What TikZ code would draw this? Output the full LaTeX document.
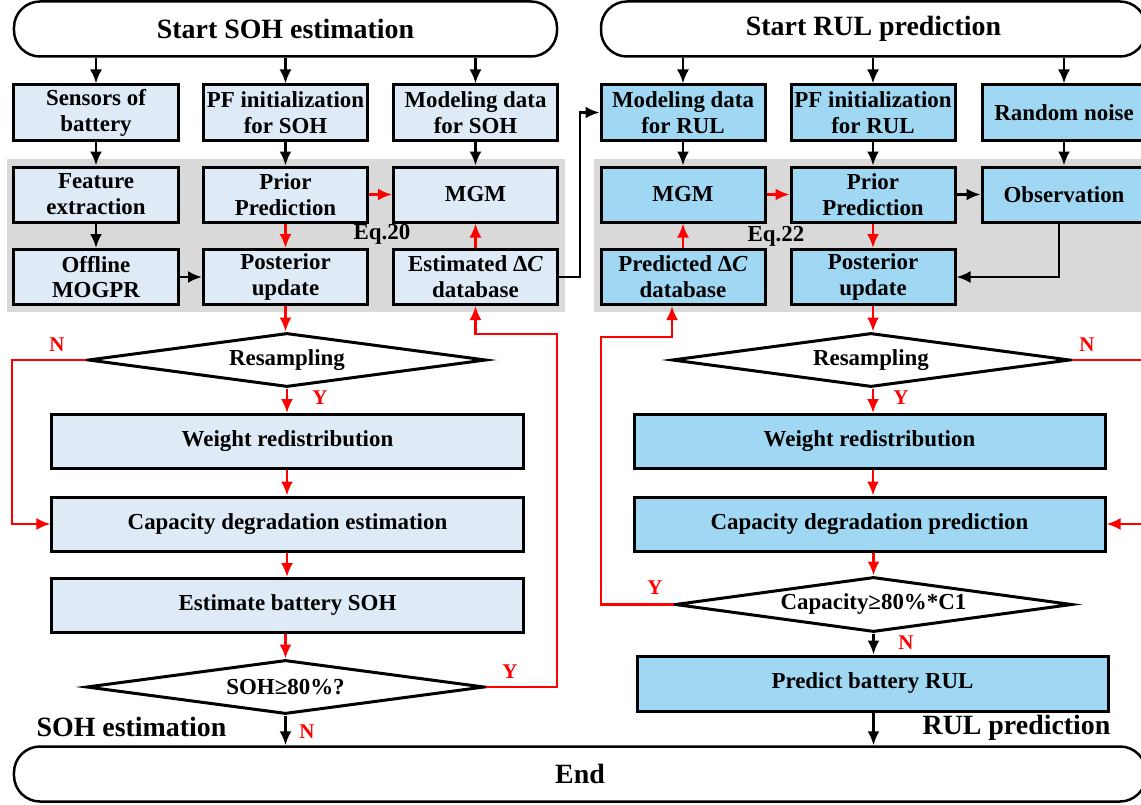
\documentclass[tikz,border=0pt]{standalone}
\usepackage{fontspec}
\setmainfont{Liberation Serif}
\usetikzlibrary{arrows.meta,shapes.geometric}
\definecolor{sohfill}{RGB}{222,235,247}
\definecolor{rulfill}{RGB}{160,215,242}
\definecolor{bandgray}{RGB}{217,217,217}
\definecolor{flowred}{RGB}{255,0,0}
\newcommand\boxfont{\fontsize{23}{26}\selectfont\bfseries}
\newcommand\titlefont{\fontsize{28}{30}\selectfont\bfseries}
\newcommand\ynfont{\fontsize{21}{24}\selectfont\bfseries}
\tikzset{
  soh box/.style={draw, line width=3bp, fill=sohfill, minimum width=164bp,
    minimum height=55bp, inner sep=0pt, align=center, font=\boxfont},
  rul box/.style={soh box, fill=rulfill},
  wide soh/.style={soh box, minimum width=471bp, minimum height=54bp},
  wide rul/.style={wide soh, fill=rulfill},
  terminal/.style={draw, line width=2.5bp, rounded corners=26bp,
    minimum height=55bp, inner sep=0pt, font=\titlefont},
  decision/.style={draw, diamond, aspect=7.4, inner sep=0pt, line width=3bp,
    minimum height=54bp, font=\boxfont},
  blackflow/.style={->, line width=2.5bp, black},
  redflow/.style={->, line width=2.5bp, flowred},
  yn/.style={text=flowred, font=\ynfont},
}
\begin{document}
\begin{tikzpicture}[x=1bp,y=-1bp,>={Latex[length=14bp,width=12bp]},line join=miter]
\useasboundingbox (0,0) rectangle (1141,805);
\clip (0,0) rectangle (1141,805);
%%
  % Gray bands
  \fill[bandgray] (7,159) rectangle (565,312);
  \fill[bandgray] (594,159) rectangle (1150,312);
  % Node: start of both parts
  \node[terminal, minimum width=543bp] (startsoh) at (285.5,29) {Start SOH estimation};
  \node[terminal, minimum width=545bp] (startrul) at (873.5,29) {Start RUL prediction};
  % Node: SOH part
  \node[soh box] (sensors) at (96,112.5) {Sensors of\\battery};
  \node[soh box] (pfsoh) at (285.5,112.5) {PF initialization\\for SOH};
  \node[soh box] (modsoh) at (475.5,112.5) {Modeling data\\for SOH};
  \node[soh box] (feature) at (96,194.5) {Feature\\extraction};
  \node[soh box] (priorsoh) at (285.5,194.5) {Prior\\Prediction};
  \node[soh box] (mgmsoh) at (475.5,194.5) {MGM};
  \node[soh box] (mogpr) at (96,277) {Offline\\MOGPR};
  \node[soh box] (postsoh) at (285.5,277) {Posterior\\update};
  \node[soh box] (estdb) at (475.5,277) {Estimated Δ\textit{C}\\database};
  \node[decision, minimum width=398bp] (ressoh) at (287,360) {Resampling};
  \node[wide soh] (weightsoh) at (287.5,441.5) {Weight redistribution};
  \node[wide soh] (capest) at (287.5,524) {Capacity degradation estimation};
  \node[wide soh] (estsoh) at (287.5,605.5) {Estimate battery SOH};
  \node[decision, minimum width=398bp] (sohdec) at (285.5,687) {SOH≥80\%?};
  % Node: RUL part
  \node[rul box] (modrul) at (683,112.5) {Modeling data\\for RUL};
  \node[rul box] (pfrul) at (873,112.5) {PF initialization\\for RUL};
  \node[rul box] (noise) at (1064,112.5) {Random noise};
  \node[rul box] (mgmrul) at (683,194.5) {MGM};
  \node[rul box] (priorrul) at (873,194.5) {Prior\\Prediction};
  \node[rul box] (obs) at (1064,194.5) {Observation};
  \node[rul box] (preddb) at (683,277) {Predicted Δ\textit{C}\\database};
  \node[rul box] (postrul) at (873,277) {Posterior\\update};
  \node[decision, minimum width=398bp] (resrul) at (871,360) {Resampling};
  \node[wide rul] (weightrul) at (869.5,441.5) {Weight redistribution};
  \node[wide rul] (cappred) at (869.5,524) {Capacity degradation prediction};
  \node[decision, minimum width=397bp, minimum height=55bp] (capdec) at (873.5,604.5) {Capacity≥80\%*C1};
  \node[wide rul, minimum height=55bp] (predrul) at (872.5,683.5) {Predict battery RUL};
  % Node: end
  \node[terminal, minimum width=1132bp] (endnode) at (580,774) {End};
  % Labels
  \node[font=\titlefont] (sohlabel) at (131.5,727) {SOH estimation};
  \node[font=\titlefont] (rullabel) at (1016.5,728) {RUL prediction};
  \node[font=\boxfont] (eqsoh) at (382,234) {Eq.20};
  \node[font=\boxfont] (eqrul) at (776,236) {Eq.22};
%%
  % Edge: start SOH -> first row
  \foreach \n in {sensors,pfsoh,modsoh}
    \draw[blackflow] (startsoh.south -| \n.north) -- (\n.north);
  % Edge: start RUL -> first row
  \foreach \n in {modrul,pfrul,noise}
    \draw[blackflow] (startrul.south -| \n.north) -- (\n.north);
  % Edge: SOH black flow
  \draw[blackflow] (sensors) -- (feature);
  \draw[blackflow] (feature) -- (mogpr);
  \draw[blackflow] (mogpr) -- (postsoh);
  \draw[blackflow] (pfsoh) -- (priorsoh);
  \draw[blackflow] (modsoh) -- (mgmsoh);
  \draw[blackflow] (estdb.east) -- ++(21,0) |- (modrul.west);
  % Edge: SOH red flow
  \draw[redflow] (priorsoh) -- (mgmsoh);
  \draw[redflow] (priorsoh) -- (postsoh);
  \draw[redflow] (estdb) -- (mgmsoh);
  \draw[redflow] (postsoh.south) -- (postsoh.south |- ressoh.north);
  \draw[redflow] (ressoh.south) -- (ressoh.south |- weightsoh.north);
  \draw[redflow] (weightsoh.south -| ressoh.south) -- (ressoh.south |- capest.north);
  \draw[redflow] (capest.south -| ressoh.south) -- (ressoh.south |- estsoh.north);
  \draw[redflow] (estsoh.south -| sohdec.north) -- (sohdec.north);
  \draw[redflow] (ressoh.west) -- ++(-74.5,0) |- (capest.west);
  \draw[redflow] (sohdec.east) -| (557,334) -| (estdb.south);
  \draw[blackflow] (sohdec.south) -- (sohdec.south |- endnode.north);
  % Edge: RUL black flow
  \draw[blackflow] (modrul) -- (mgmrul);
  \draw[blackflow] (pfrul) -- (priorrul);
  \draw[blackflow] (noise) -- (obs);
  \draw[blackflow] (priorrul) -- (obs);
  \draw[blackflow] ([xshift=-5bp]obs.south) |- (postrul.east);
  % Edge: RUL red flow
  \draw[redflow] (mgmrul) -- (priorrul);
  \draw[redflow] (priorrul) -- (postrul);
  \draw[redflow] (preddb) -- (mgmrul);
  \draw[redflow] (postrul.south) -- (postrul.south |- resrul.north);
  \draw[redflow] (resrul.south -| postrul.south) -- (postrul.south |- weightrul.north);
  \draw[redflow] (weightrul.south -| postrul.south) -- (postrul.south |- cappred.north);
  \draw[redflow] (cappred.south -| capdec.north) -- (capdec.north);
  \draw[redflow] (resrul.east) -- (1150,360) |- (cappred.east);
  \draw[redflow] (capdec.west) -| (601,337) -| ([xshift=-11bp]preddb.south);
  \draw[blackflow] (capdec.south) -- (capdec.south |- predrul.north);
  \draw[blackflow] (predrul.south -| capdec.south) -- (capdec.south |- endnode.north);
  % Y / N labels
  \node[yn] (nsohres) at (57,345) {N};
  \node[yn] (ysohres) at (320,398) {Y};
  \node[yn] (ysohdec) at (510,672) {Y};
  \node[yn] (nsohdec) at (307,732) {N};
  \node[yn] (nrulres) at (1087,345) {N};
  \node[yn] (yrulres) at (901,398) {Y};
  \node[yn] (ycapdec) at (655,588) {Y};
  \node[yn] (ncapdec) at (906,643) {N};
%
\end{tikzpicture}
\end{document}
